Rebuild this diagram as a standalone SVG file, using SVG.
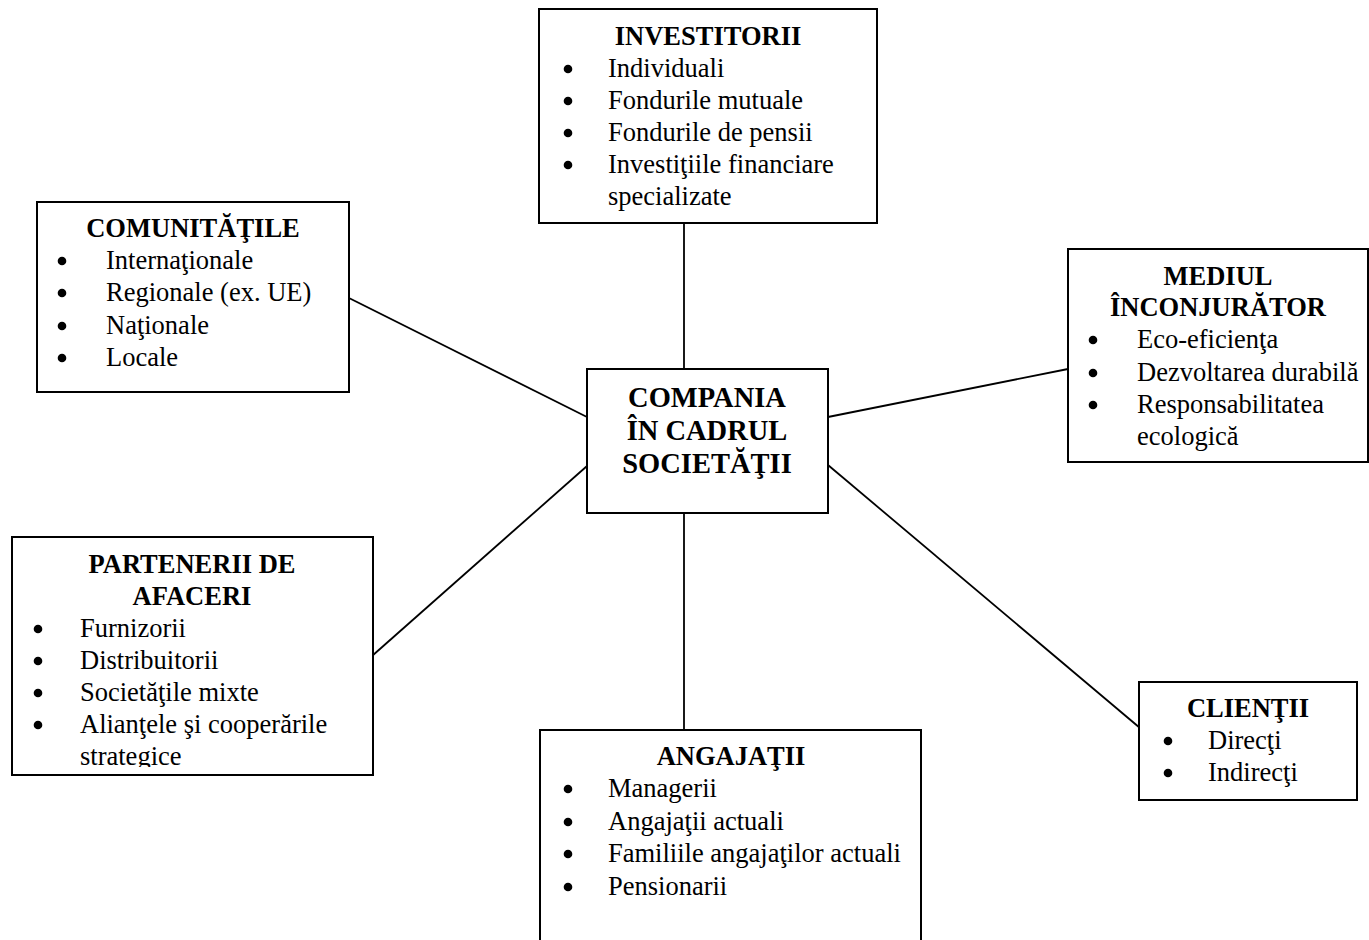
<svg xmlns="http://www.w3.org/2000/svg" width="1369" height="940" viewBox="0 0 1369 940">
<style>
.box{fill:#fff;stroke:#000;stroke-width:2}
.ln{stroke:#000;stroke-width:1.8;fill:none}
.dot{fill:#000}
text{font-family:"Liberation Serif","Times New Roman",serif;font-size:26.5px;fill:#000}
.t{font-weight:bold;text-anchor:middle}
.c{font-weight:bold;text-anchor:middle;font-size:28.5px}
</style>
<defs>
<clipPath id="clipP"><rect x="12" y="537" width="361" height="230"/></clipPath>
</defs>
<rect width="1369" height="940" fill="#fff"/>
<g id="connectors">
<line class="ln" x1="684" y1="223" x2="684" y2="369"/>
<line class="ln" x1="684" y1="513" x2="684" y2="730"/>
<line class="ln" x1="349" y1="298" x2="587" y2="417"/>
<line class="ln" x1="828" y1="417" x2="1068" y2="369"/>
<line class="ln" x1="372" y1="656" x2="587" y2="466"/>
<line class="ln" x1="828" y1="465" x2="1140" y2="728"/>
</g>
<g id="investitorii">
<rect class="box" x="539" y="9" width="338" height="214"/>
<text class="t" x="708" y="45">INVESTITORII</text>
<circle class="dot" cx="568" cy="69" r="4.3"/><text x="608" y="77">Individuali</text>
<circle class="dot" cx="568" cy="101" r="4.3"/><text x="608" y="109">Fondurile mutuale</text>
<circle class="dot" cx="568" cy="133" r="4.3"/><text x="608" y="141">Fondurile de pensii</text>
<circle class="dot" cx="568" cy="165" r="4.3"/><text x="608" y="173">Investiţiile financiare</text>
<text x="608" y="205">specializate</text>
</g>
<g id="comunitatile">
<rect class="box" x="37" y="202" width="312" height="190"/>
<text class="t" x="193" y="237">COMUNITĂŢILE</text>
<circle class="dot" cx="62" cy="261" r="4.3"/><text x="106" y="269">Internaţionale</text>
<circle class="dot" cx="62" cy="293" r="4.3"/><text x="106" y="301">Regionale (ex. UE)</text>
<circle class="dot" cx="62" cy="326" r="4.3"/><text x="106" y="334">Naţionale</text>
<circle class="dot" cx="62" cy="358" r="4.3"/><text x="106" y="366">Locale</text>
</g>
<g id="mediul">
<rect class="box" x="1068" y="249" width="300" height="213"/>
<text class="t" x="1218" y="285">MEDIUL</text>
<text class="t" x="1218" y="316">ÎNCONJURĂTOR</text>
<circle class="dot" cx="1093" cy="340" r="4.3"/><text x="1137" y="348">Eco-eficienţa</text>
<circle class="dot" cx="1093" cy="373" r="4.3"/><text x="1137" y="381">Dezvoltarea durabilă</text>
<circle class="dot" cx="1093" cy="405" r="4.3"/><text x="1137" y="413">Responsabilitatea</text>
<text x="1137" y="445">ecologică</text>
</g>
<g id="compania">
<rect class="box" x="587" y="369" width="241" height="144"/>
<text class="c" x="707" y="407">COMPANIA</text>
<text class="c" x="707" y="440">ÎN CADRUL</text>
<text class="c" x="707" y="473">SOCIETĂŢII</text>
</g>
<g id="partenerii">
<rect class="box" x="12" y="537" width="361" height="238"/>
<g clip-path="url(#clipP)">
<text class="t" x="192" y="573">PARTENERII DE</text>
<text class="t" x="192" y="605">AFACERI</text>
<circle class="dot" cx="38" cy="629" r="4.3"/><text x="80" y="637">Furnizorii</text>
<circle class="dot" cx="38" cy="661" r="4.3"/><text x="80" y="669">Distribuitorii</text>
<circle class="dot" cx="38" cy="693" r="4.3"/><text x="80" y="701">Societăţile mixte</text>
<circle class="dot" cx="38" cy="725" r="4.3"/><text x="80" y="733">Alianţele şi cooperările</text>
<text x="80" y="765">strategice</text>
</g>
</g>
<g id="angajatii">
<rect class="box" x="540" y="730" width="381" height="230"/>
<text class="t" x="731" y="765">ANGAJAŢII</text>
<circle class="dot" cx="568" cy="789" r="4.3"/><text x="608" y="797">Managerii</text>
<circle class="dot" cx="568" cy="822" r="4.3"/><text x="608" y="830">Angajaţii actuali</text>
<circle class="dot" cx="568" cy="854" r="4.3"/><text x="608" y="862">Familiile angajaţilor actuali</text>
<circle class="dot" cx="568" cy="887" r="4.3"/><text x="608" y="895">Pensionarii</text>
</g>
<g id="clientii">
<rect class="box" x="1139" y="682" width="218" height="118"/>
<text class="t" x="1248" y="717">CLIENŢII</text>
<circle class="dot" cx="1168" cy="741" r="4.3"/><text x="1208" y="749">Direcţi</text>
<circle class="dot" cx="1168" cy="773" r="4.3"/><text x="1208" y="781">Indirecţi</text>
</g>
</svg>
